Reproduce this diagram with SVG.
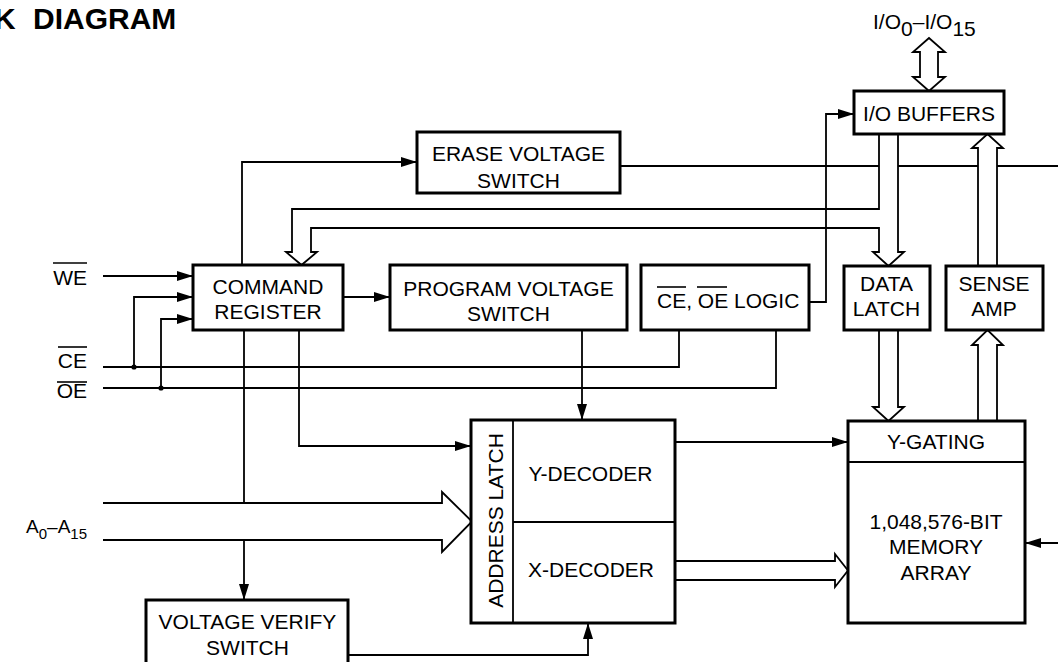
<svg xmlns="http://www.w3.org/2000/svg" width="1058" height="662" viewBox="0 0 1058 662">
<style>
text{font-family:"Liberation Sans",Arial,Helvetica,sans-serif;font-size:21px;fill:#000}
.c{text-anchor:middle}
.e{text-anchor:end}
.box{fill:#fff;stroke:#000;stroke-width:3}
.div{fill:none;stroke:#000;stroke-width:1.8}
.w{fill:none;stroke:#000;stroke-width:1.8}
.arr{fill:none;stroke:#000;stroke-width:1.8;marker-end:url(#ah)}
.pipe{fill:#fff;stroke:#000;stroke-width:1.8;stroke-linejoin:miter}
.ol{stroke:#000;stroke-width:1.6}
</style>
<defs>
<marker id="ah" markerUnits="userSpaceOnUse" markerWidth="16" markerHeight="10" refX="16" refY="5" orient="auto" viewBox="0 0 16 10">
<path d="M0,0 L16,5 L0,10 z" fill="#000"/>
</marker>
</defs>
<rect width="1058" height="662" fill="#fff"/>
<text x="-6" y="29" style="font-size:30px;font-weight:bold" word-spacing="9">K DIAGRAM</text>

<g id="connectors">
<path class="w" d="M620,166 H1058"/>
<path class="arr" d="M103,276 H193"/>
<path class="arr" d="M134,367 V297 H193"/>
<path class="arr" d="M161,388 V319 H193"/>
<path class="w" d="M103,367 H679 V330"/>
<path class="w" d="M103,388 H776 V330"/>
<circle cx="134" cy="367" r="2.6" fill="#000"/>
<circle cx="161" cy="388" r="2.6" fill="#000"/>
<path class="arr" d="M343,297 H390"/>
<path class="arr" d="M242,265 V162 H417"/>
<path class="arr" d="M299,330 V446 H471"/>
<path class="w" d="M244,330 V503"/>
<path class="arr" d="M244,540 V600"/>
<path class="arr" d="M582,330 V420"/>
<path class="arr" d="M348,655 H588 V623"/>
<path class="arr" d="M675,442 H848"/>
<path class="arr" d="M1058,543 H1025"/>
<path class="pipe" d="M920,52 H913 L929,38 L945,52 H938 V77 H945 L929,91 L913,77 H920 Z"/>
<path class="pipe" d="M879,134 V209 H292 V252 H286 L301.5,265 L317,252 H311 V228 H879 V252 H873 L888.5,266 L904,252 H898 V134"/>
<path class="pipe" d="M978,266 V148 H972 L987.5,134 L1003,148 H997 V266"/>
<path class="pipe" d="M978,421 V345 H972 L987.5,330 L1003,345 H997 V421"/>
<path class="pipe" d="M879,330 V407 H873 L888.5,421 L904,407 H898 V330"/>
<path class="pipe" d="M103,503 H442 V492 L472,521.5 L442,552 V540 H103"/>
<path class="pipe" d="M675,561 H835 V554 L848,570.5 L835,587 V580 H675"/>
<path class="arr" d="M809,302 H826 V114 H854"/>
</g>

<g id="labels">
<text x="873" y="28.5">I/O<tspan dy="7">0</tspan><tspan dy="-7">–I/O</tspan><tspan dy="7">15</tspan></text>
<text class="e" x="87" y="285">WE</text>
<line class="ol" x1="53" y1="263" x2="87" y2="263"/>
<text class="e" x="87" y="368">CE</text>
<line class="ol" x1="58" y1="347" x2="87" y2="347"/>
<text class="e" x="87" y="398">OE</text>
<line class="ol" x1="57" y1="382" x2="87" y2="382"/>
<text class="e" x="87" y="533" style="font-size:19px">A<tspan dy="6" style="font-size:15px">0</tspan><tspan dy="-6">–A</tspan><tspan dy="6" style="font-size:15px">15</tspan></text>
</g>

<g id="erase">
<rect class="box" x="417" y="132" width="203" height="61"/>
<text class="c" x="518.5" y="161">ERASE VOLTAGE</text>
<text class="c" x="518.5" y="188">SWITCH</text>
</g>
<g id="io-buffers">
<rect class="box" x="854" y="91" width="150" height="43"/>
<text class="c" x="929" y="121">I/O BUFFERS</text>
</g>
<g id="command-register">
<rect class="box" x="193" y="265" width="150" height="65"/>
<text class="c" x="268" y="294">COMMAND</text>
<text class="c" x="268" y="319">REGISTER</text>
</g>
<g id="program-voltage">
<rect class="box" x="390" y="265" width="237" height="65"/>
<text class="c" x="508.5" y="296">PROGRAM VOLTAGE</text>
<text class="c" x="508.5" y="321">SWITCH</text>
</g>
<g id="ce-oe-logic">
<rect class="box" x="641" y="265" width="168" height="65"/>
<text x="657" y="308">CE, OE LOGIC</text>
<line class="ol" x1="657" y1="287" x2="686" y2="287"/>
<line class="ol" x1="697" y1="287" x2="727" y2="287"/>
</g>
<g id="data-latch">
<rect class="box" x="844" y="266" width="86" height="64"/>
<text class="c" x="886.5" y="291">DATA</text>
<text class="c" x="886.5" y="316">LATCH</text>
</g>
<g id="sense-amp">
<rect class="box" x="946" y="266" width="97" height="64"/>
<text class="c" x="994" y="291">SENSE</text>
<text class="c" x="994" y="316">AMP</text>
</g>
<g id="address-latch">
<rect class="box" x="471" y="420" width="204" height="203"/>
<line class="div" x1="513" y1="420" x2="513" y2="623"/>
<line class="div" x1="513" y1="522" x2="675" y2="522"/>
<text class="c" transform="translate(503,520.5) rotate(-90)">ADDRESS LATCH</text>
<text class="c" x="590.5" y="481">Y-DECODER</text>
<text class="c" x="591" y="577">X-DECODER</text>
</g>
<g id="memory-array">
<rect class="box" x="848" y="421" width="177" height="202"/>
<line class="div" x1="848" y1="462" x2="1025" y2="462"/>
<text class="c" x="936" y="449">Y-GATING</text>
<text class="c" x="936" y="529">1,048,576-BIT</text>
<text class="c" x="936" y="554">MEMORY</text>
<text class="c" x="936" y="580">ARRAY</text>
</g>
<g id="voltage-verify">
<rect class="box" x="146" y="600" width="202" height="75"/>
<text class="c" x="247.5" y="629">VOLTAGE VERIFY</text>
<text class="c" x="247.5" y="655">SWITCH</text>
</g>
</svg>
